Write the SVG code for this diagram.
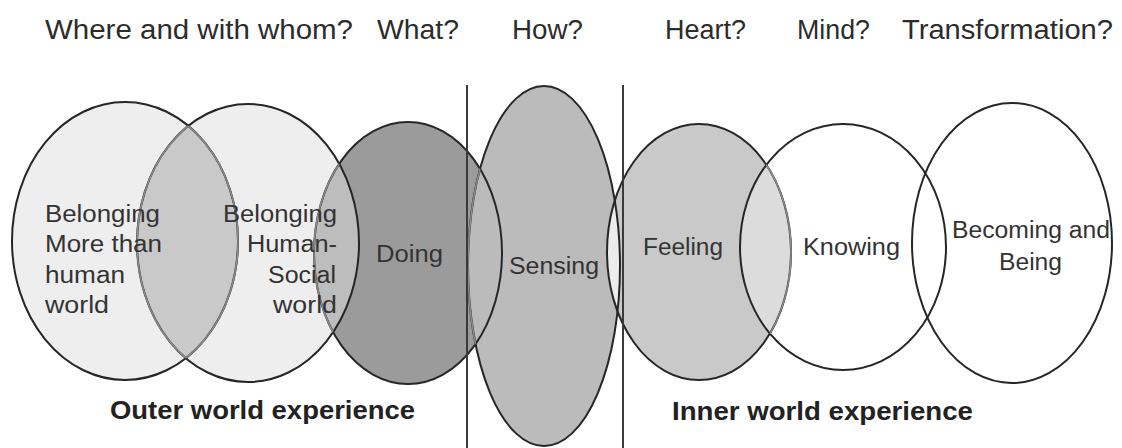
<svg xmlns="http://www.w3.org/2000/svg" width="1122" height="448" viewBox="0 0 1122 448">
  <style>
    .outline { fill: none; stroke: #262626; stroke-width: 2; }
    .soft { fill: none; stroke: #8a8a8a; stroke-width: 1.6; }
    .q { font-family: "Liberation Sans", Arial, sans-serif; font-size: 27px; fill: #2c2c2c; }
    .lbl { font-family: "Liberation Sans", Arial, sans-serif; font-size: 23px; fill: #333; }
    .cap { font-family: "Liberation Sans", Arial, sans-serif; font-size: 26px; font-weight: bold; fill: #222; }
    .divider { stroke: #3a3a3a; stroke-width: 2; }
  </style>
  <defs>
    <ellipse id="e-more" cx="125" cy="241" rx="113" ry="139"/>
    <ellipse id="e-social" cx="248" cy="243" rx="111" ry="139"/>
    <ellipse id="e-doing" cx="408" cy="253" rx="94" ry="131"/>
    <ellipse id="e-sensing" cx="544" cy="266" rx="76" ry="180"/>
    <ellipse id="e-feeling" cx="699" cy="252" rx="92" ry="128"/>
    <ellipse id="e-knowing" cx="843" cy="247" rx="103" ry="123"/>
    <ellipse id="e-becoming" cx="1012" cy="243" rx="100" ry="140"/>
    <clipPath id="in-more"><use href="#e-more"/></clipPath>
    <clipPath id="in-social"><use href="#e-social"/></clipPath>
    <clipPath id="in-doing"><use href="#e-doing"/></clipPath>
    <clipPath id="in-feeling"><use href="#e-feeling"/></clipPath>
    <clipPath id="in-knowing"><use href="#e-knowing"/></clipPath>
    <clipPath id="in-sensing"><use href="#e-sensing"/></clipPath>
  </defs>

  <!-- questions along the top -->
  <g id="questions">
    <text class="q" x="45" y="39" textLength="308" lengthAdjust="spacingAndGlyphs">Where and with whom?</text>
    <text class="q" x="377" y="39" textLength="82" lengthAdjust="spacingAndGlyphs">What?</text>
    <text class="q" x="512" y="39" textLength="71" lengthAdjust="spacingAndGlyphs">How?</text>
    <text class="q" x="665" y="39" textLength="81" lengthAdjust="spacingAndGlyphs">Heart?</text>
    <text class="q" x="797" y="39" textLength="73" lengthAdjust="spacingAndGlyphs">Mind?</text>
    <text class="q" x="902" y="39" textLength="211" lengthAdjust="spacingAndGlyphs">Transformation?</text>
  </g>

  <!-- base fills -->
  <g id="fills">
    <use href="#e-more" fill="#eeeeee"/>
    <use href="#e-social" fill="#eeeeee"/>
    <use href="#e-doing" fill="#9b9b9b"/>
    <use href="#e-sensing" fill="#bbbbbb"/>
    <use href="#e-feeling" fill="#c9c9c9"/>
    <use href="#e-knowing" fill="#ffffff"/>
    <use href="#e-becoming" fill="#ffffff"/>
  </g>

  <!-- overlap shading -->
  <g id="overlaps">
    <use href="#e-more" fill="#c9c9c9" clip-path="url(#in-social)"/>
    <use href="#e-social" fill="#bdbdbd" clip-path="url(#in-doing)"/>
    <use href="#e-sensing" fill="#ececec" clip-path="url(#in-feeling)"/>
    <use href="#e-feeling" fill="#dcdcdc" clip-path="url(#in-knowing)"/>
  </g>

  <!-- outlines -->
  <g id="node-more"><use href="#e-more" class="outline"/></g>
  <g id="node-social"><use href="#e-social" class="outline"/></g>
  <g id="node-doing"><use href="#e-doing" class="outline"/></g>
  <g id="node-sensing"><use href="#e-sensing" class="outline"/></g>
  <g id="node-feeling"><use href="#e-feeling" class="outline"/></g>
  <g id="node-knowing"><use href="#e-knowing" class="outline"/></g>
  <g id="node-becoming"><use href="#e-becoming" class="outline"/></g>

  <!-- lighter arcs where one ring passes inside another -->
  <g id="inner-arcs">
    <use href="#e-more" class="soft" clip-path="url(#in-social)"/>
    <use href="#e-social" class="soft" clip-path="url(#in-more)"/>
    <use href="#e-doing" class="soft" clip-path="url(#in-social)"/>
    <use href="#e-sensing" class="soft" stroke="#a8a8a8" clip-path="url(#in-doing)"/>
    <use href="#e-feeling" class="soft" clip-path="url(#in-knowing)"/>
  </g>

  <!-- dividers -->
  <g id="connectors">
    <line class="divider" x1="467" y1="85" x2="467" y2="448"/>
    <line class="divider" x1="623" y1="85" x2="623" y2="448"/>
  </g>

  <!-- labels -->
  <g id="labels">
    <text class="lbl" x="45" y="222" textLength="115" lengthAdjust="spacingAndGlyphs">Belonging</text>
    <text class="lbl" x="45" y="252" textLength="117" lengthAdjust="spacingAndGlyphs">More than</text>
    <text class="lbl" x="45" y="283" textLength="80" lengthAdjust="spacingAndGlyphs">human</text>
    <text class="lbl" x="45" y="313" textLength="64" lengthAdjust="spacingAndGlyphs">world</text>

    <text class="lbl" x="337" y="222" text-anchor="end" textLength="114" lengthAdjust="spacingAndGlyphs">Belonging</text>
    <text class="lbl" x="337" y="252" text-anchor="end" textLength="90" lengthAdjust="spacingAndGlyphs">Human-</text>
    <text class="lbl" x="336" y="283" text-anchor="end" textLength="68" lengthAdjust="spacingAndGlyphs">Social</text>
    <text class="lbl" x="337" y="313" text-anchor="end" textLength="64" lengthAdjust="spacingAndGlyphs">world</text>

    <text class="lbl" x="376" y="262" textLength="67" lengthAdjust="spacingAndGlyphs">Doing</text>
    <text class="lbl" x="509" y="274" textLength="90" lengthAdjust="spacingAndGlyphs">Sensing</text>
    <text class="lbl" x="643" y="255" textLength="80" lengthAdjust="spacingAndGlyphs">Feeling</text>
    <text class="lbl" x="803" y="255" textLength="97" lengthAdjust="spacingAndGlyphs">Knowing</text>
    <text class="lbl" x="952" y="238" textLength="158" lengthAdjust="spacingAndGlyphs">Becoming and</text>
    <text class="lbl" x="999" y="270" textLength="63" lengthAdjust="spacingAndGlyphs">Being</text>
  </g>

  <g id="captions">
    <text class="cap" x="110" y="419" textLength="305" lengthAdjust="spacingAndGlyphs">Outer world experience</text>
    <text class="cap" x="672" y="420" textLength="301" lengthAdjust="spacingAndGlyphs">Inner world experience</text>
  </g>
</svg>
